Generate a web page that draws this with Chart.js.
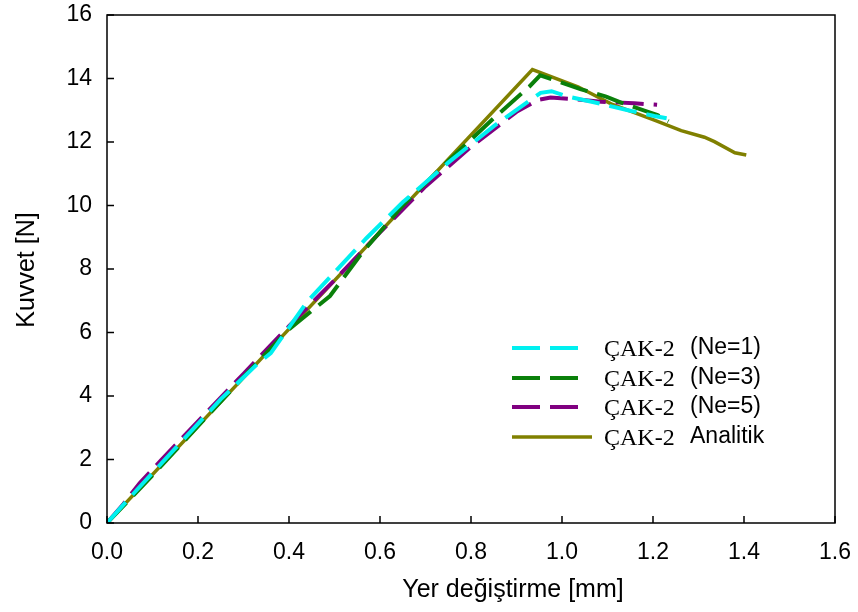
<!DOCTYPE html>
<html>
<head>
<meta charset="utf-8">
<script src="https://cdn.jsdelivr.net/npm/chart.js@4/dist/chart.umd.min.js"></script>
<style>
  html, body { margin: 0; padding: 0; background: #fff; }
  #wrap { width: 858px; height: 612px; }
</style>
</head>
<body>
<div id="wrap"><canvas id="kuvvetChart" width="858" height="612"></canvas></div>
<script>
// values: [displacement mm, force N]
const ne1Points = [[0,0],[0.05,0.8],[0.15,2.35],[0.25,3.9],[0.33,5.0],[0.36,5.35],[0.44,6.97],[0.57,8.97],[0.65,10.1],[0.75,11.35],[0.85,12.5],[0.953,13.55],[0.977,13.6],[1.008,13.45],[1.086,13.2],[1.145,13.0],[1.203,12.82],[1.23,12.75]];
const ne3Points = [[0,0],[0.1,1.5],[0.2,3.05],[0.3,4.6],[0.4,6.1],[0.49,7.15],[0.56,8.5],[0.65,10.0],[0.75,11.4],[0.85,12.75],[0.928,13.74],[0.952,14.1],[1.042,13.66],[1.097,13.43],[1.13,13.24],[1.181,12.99],[1.21,12.85],[1.234,12.65]];
const ne5Points = [[0,0],[0.036,0.6],[0.072,1.26],[0.119,1.98],[0.2,3.2],[0.3,4.7],[0.4,6.2],[0.5,7.65],[0.6,9.15],[0.7,10.6],[0.8,11.85],[0.9,12.95],[0.946,13.32],[0.975,13.4],[1.027,13.35],[1.086,13.27],[1.159,13.22],[1.209,13.17]];
const analitikPoints = [[0,0],[0.935,14.28],[1.035,13.74],[1.108,13.2],[1.203,12.69],[1.262,12.36],[1.313,12.15],[1.335,12.01],[1.38,11.66],[1.405,11.59]];

const xTicks = [0, 0.2, 0.4, 0.6, 0.8, 1.0, 1.2, 1.4, 1.6];
const yTicks = [0, 2, 4, 6, 8, 10, 12, 14, 16];

const seriesNames = ['(Ne=1)', '(Ne=3)', '(Ne=5)', 'Analitik'];
const seriesColors = ['#00f0f0', '#0a800a', '#800080', '#808000'];

const toXY = pts => pts.map(p => ({ x: p[0], y: p[1] }));

const dash = [28, 10];
const datasets = [
  { label: seriesNames[0], data: toXY(ne1Points), borderColor: seriesColors[0], borderDash: dash, borderWidth: 4 },
  { label: seriesNames[1], data: toXY(ne3Points), borderColor: seriesColors[1], borderDash: dash, borderWidth: 4 },
  { label: seriesNames[2], data: toXY(ne5Points), borderColor: seriesColors[2], borderDash: dash, borderWidth: 4 },
  { label: seriesNames[3], data: toXY(analitikPoints), borderColor: seriesColors[3], borderWidth: 3.5 },
].map(d => Object.assign(d, { pointRadius: 0, fill: false, tension: 0 }));

const sans = '"Liberation Sans", Arial, sans-serif';

// box, inward ticks, axis titles and the mixed-font legend
const framePlugin = {
  id: 'frame',
  afterDatasetsDraw(chart) {
    const ctx = chart.ctx;
    const a = chart.chartArea;
    const xs = chart.scales.x, ys = chart.scales.y;
    ctx.save();
    ctx.strokeStyle = '#000';
    ctx.lineWidth = 1.5;
    ctx.strokeRect(a.left, a.top, a.right - a.left, a.bottom - a.top);
    ctx.beginPath();
    xTicks.forEach(v => {
      const px = xs.getPixelForValue(v);
      ctx.moveTo(px, a.bottom);
      ctx.lineTo(px, a.bottom - 7);
    });
    yTicks.forEach(v => {
      const py = ys.getPixelForValue(v);
      ctx.moveTo(a.left, py);
      ctx.lineTo(a.left + 7, py);
    });
    ctx.stroke();

    // axis titles
    ctx.fillStyle = '#000';
    ctx.font = '25px ' + sans;
    ctx.textAlign = 'center';
    ctx.textBaseline = 'middle';
    ctx.fillText('Yer değiştirme [mm]', 513, 590);
    ctx.save();
    ctx.translate(27, 270);
    ctx.rotate(-Math.PI / 2);
    ctx.fillText('Kuvvet [N]', 0, 0);
    ctx.restore();

    // legend
    const rows = [348, 378, 407, 437];
    rows.forEach((yy, i) => {
      ctx.strokeStyle = seriesColors[i];
      ctx.lineWidth = i === 3 ? 3.5 : 4;
      ctx.setLineDash(i === 3 ? [] : dash);
      ctx.beginPath();
      ctx.moveTo(512, yy);
      ctx.lineTo(i === 3 ? 592 : 580, yy);
      ctx.stroke();
      ctx.setLineDash([]);
      ctx.textAlign = 'left';
      ctx.textBaseline = 'middle';
      ctx.font = '24px "Liberation Serif", "Times New Roman", serif';
      ctx.fillText('ÇAK-2', 604, yy + 2);
      ctx.font = '23px ' + sans;
      ctx.fillText(seriesNames[i], 690, yy);
    });
    ctx.restore();
  }
};

const chartConfig = {
  type: 'line',
  data: { datasets },
  options: {
    responsive: false,
    animation: false,
    layout: { padding: { top: 15, right: 23, left: 0, bottom: 0 } },
    plugins: { legend: { display: false }, tooltip: { enabled: false } },
    scales: {
      x: {
        type: 'linear',
        min: 0, max: 1.6,
        afterBuildTicks: s => { s.ticks = xTicks.map(v => ({ value: v })); },
        afterFit: s => { s.height = 89; s.paddingLeft = 0; s.paddingRight = 0; },
        grid: { display: false, drawTicks: false },
        border: { display: false },
        ticks: {
          color: '#000',
          padding: 16,
          font: { family: sans, size: 23 },
          callback: v => v.toFixed(1),
          maxRotation: 0
        }
      },
      y: {
        type: 'linear',
        min: 0, max: 16,
        afterBuildTicks: s => { s.ticks = yTicks.map(v => ({ value: v })); },
        afterFit: s => { s.width = 107; s.paddingTop = 0; s.paddingBottom = 0; },
        grid: { display: false, drawTicks: false },
        border: { display: false },
        ticks: {
          color: '#000',
          padding: 15,
          font: { family: sans, size: 23 }
        }
      }
    }
  },
  plugins: [framePlugin]
};

const ctx = document.getElementById('kuvvetChart').getContext('2d');
new Chart(ctx, chartConfig);
</script>
</body>
</html>
